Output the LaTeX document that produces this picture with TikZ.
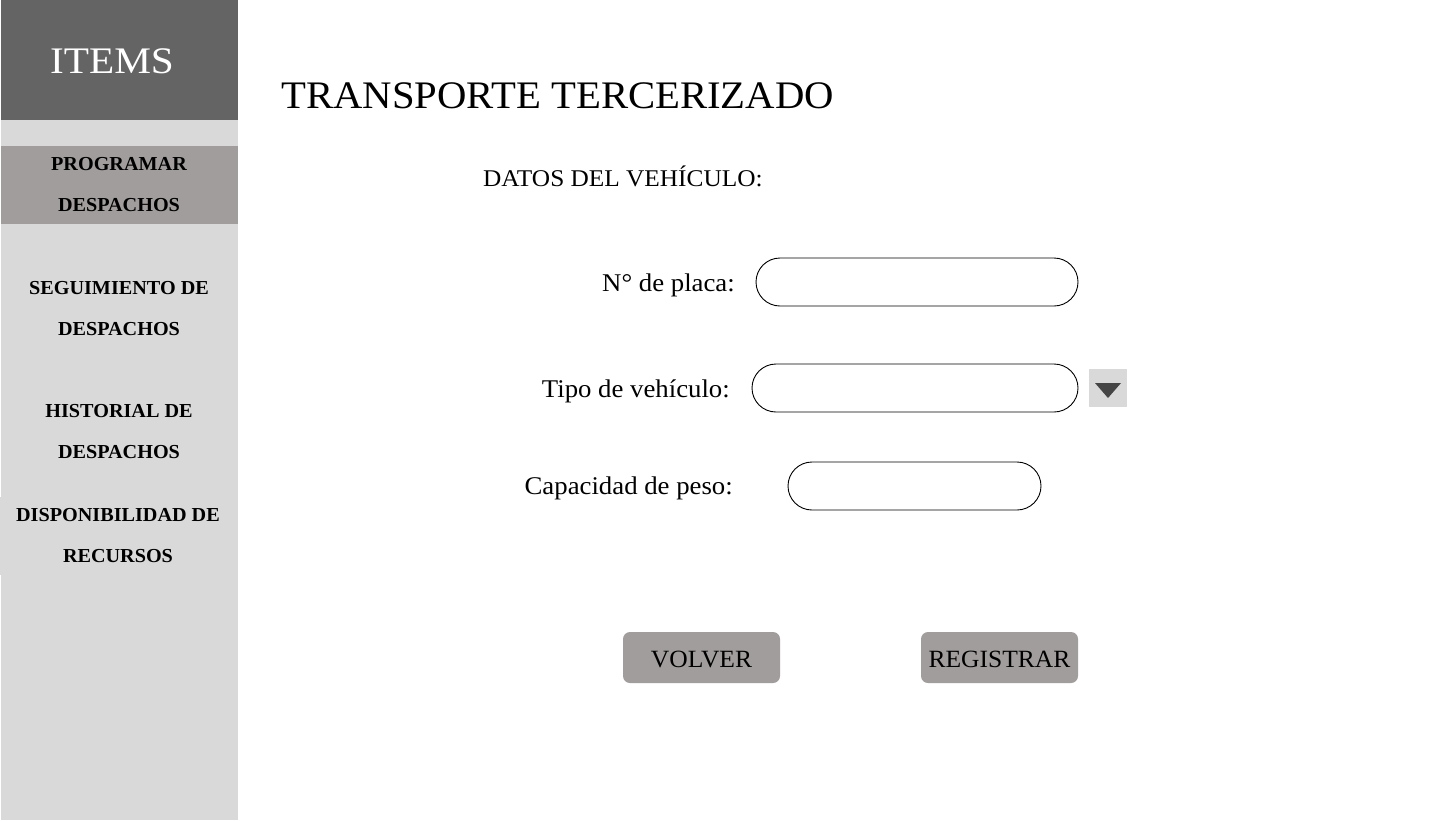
\documentclass[tikz,border=0pt]{standalone}
\usepackage{fontspec}
\setmainfont{Liberation Serif}
\newfontfamily\fitems[FakeStretch=1.1]{Liberation Serif}
\newfontfamily\ftitle[FakeStretch=1.044]{Liberation Serif}
\newfontfamily\fdatos[FakeStretch=1.055]{Liberation Serif}
\newfontfamily\flbl[FakeStretch=1.05]{Liberation Serif}
\newfontfamily\fbtn[FakeStretch=1.03]{Liberation Serif}
\newfontfamily\fmenu[FakeStretch=1.02]{Liberation Serif}
\definecolor{sidebg}{HTML}{D9D9D9}
\definecolor{headbg}{HTML}{646464}
\definecolor{selbg}{HTML}{A29D9D}
\definecolor{tri}{HTML}{454545}
\tikzset{
  menu/.style={font=\fmenu\fontsize{19.8}{41}\selectfont\bfseries, align=center, text=black},
  lbl/.style={font=\flbl\fontsize{25.5}{28}\selectfont, anchor=base east, inner sep=0pt},
  field/.style={draw=black, line width=0.9pt, rounded corners=24pt, fill=white},
  btn/.style={fill=selbg, rounded corners=7pt, draw=none},
  btntxt/.style={font=\fbtn\fontsize{24.8}{28}\selectfont, text=black, anchor=base, inner sep=0pt},
}
\begin{document}
\begin{tikzpicture}[x=1pt,y=-1pt]
\useasboundingbox (0,0) rectangle (1440,820);
\fill[white] (0,0) rectangle (1440,820);
% sidebar
\fill[sidebg] (1,0) rectangle (238,820);
\fill[sidebg] (0,497) rectangle (1,575);
\fill[headbg] (1,0) rectangle (238,120);
\fill[selbg] (1,146) rectangle (238,224);
\node[font=\fitems\fontsize{37.5}{40}\selectfont, text=white, anchor=base, inner sep=0pt] (items) at (112,73) {ITEMS};
\node[menu] (m1) at (119,185) {PROGRAMAR\\DESPACHOS};
\node[menu] (m2) at (119,309) {SEGUIMIENTO DE\\DESPACHOS};
\node[menu] (m3) at (119,432) {HISTORIAL DE\\DESPACHOS};
\node[menu] (m4) at (118,536) {DISPONIBILIDAD DE\\RECURSOS};
% title
\node[font=\ftitle\fontsize{39}{44}\selectfont, anchor=base west, inner sep=0pt] (title) at (281,108) {TRANSPORTE TERCERIZADO};
\node[font=\fdatos\fontsize{24}{28}\selectfont, anchor=base west, inner sep=0pt] (datos) at (483,186) {DATOS DEL VEHÍCULO:};
% fields
\node[lbl] (l1) at (735,291) {N° de placa:};
\node[lbl] (l2) at (730,397) {Tipo de vehículo:};
\node[lbl] (l3) at (733,494) {Capacidad de peso:};
\draw[field] (756,258) rectangle (1078,306);
\node[inner sep=0pt, minimum width=322pt, minimum height=48pt] (f1) at (917,282) {};
\draw[field] (752,364) rectangle (1078,412);
\node[inner sep=0pt, minimum width=326pt, minimum height=48pt] (f2) at (915,388) {};
\draw[field] (788,462) rectangle (1041,510);
\node[inner sep=0pt, minimum width=253pt, minimum height=48pt] (f3) at (914.5,486) {};
% dropdown
\fill[sidebg] (1089,369) rectangle (1127,407);
\fill[tri] (1095,383) -- (1121,383) -- (1108,398) -- cycle;
% buttons
\fill[btn] (623,632) rectangle (780,683);
\node[btntxt] (b1) at (701.5,667) {VOLVER};
\fill[btn] (921,632) rectangle (1078,683);
\node[btntxt] (b2) at (999.5,667) {REGISTRAR};
\end{tikzpicture}
\end{document}
